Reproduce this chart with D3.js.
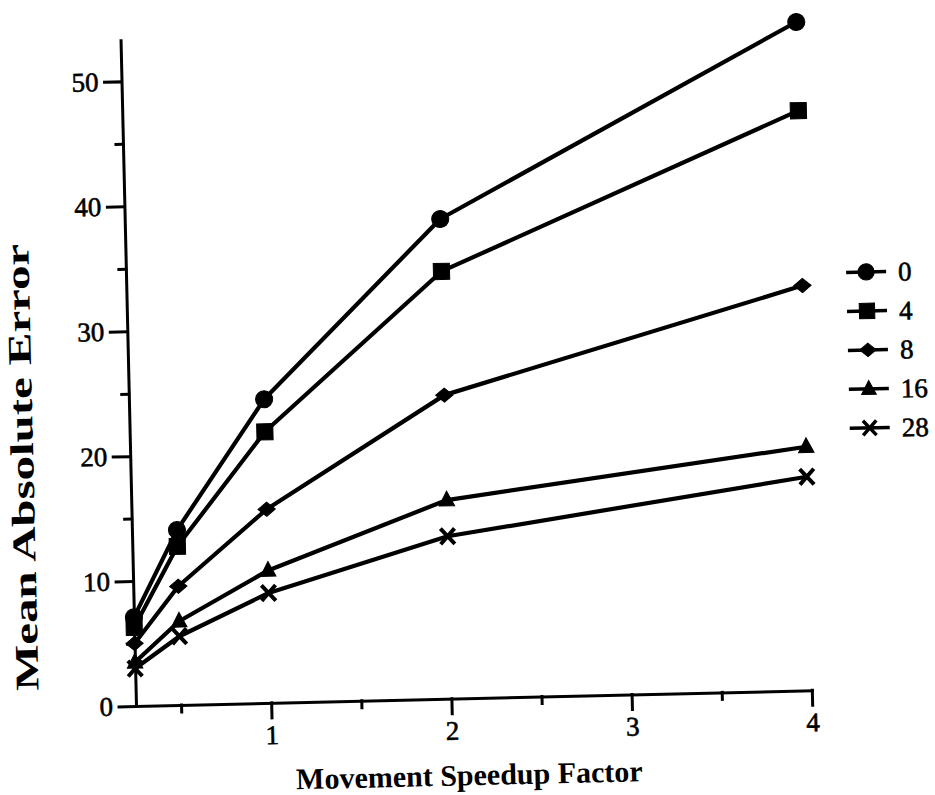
<!DOCTYPE html>
<html>
<head>
<meta charset="utf-8">
<script src="https://cdn.jsdelivr.net/npm/d3@7"></script>
<style>
  html, body { margin: 0; padding: 0; background: #fff; }
  svg { display: block; }
</style>
</head>
<body>
<svg id="chart" width="935" height="795"></svg>
<script>
// Movement speedup factor (x) and mean absolute error per delay condition
const speedup = [0.25, 0.5, 1, 2, 4];
const delayLabels = ["0", "4", "8", "16", "28"];
const errDelay0  = [7.1, 14.0, 24.3, 38.4, 53.5];
const errDelay4  = [6.3, 12.7, 21.7, 34.2, 46.4];
const errDelay8  = [5.0, 9.5, 15.5, 24.3, 32.4];
const errDelay16 = [3.5, 6.7, 10.6, 15.9, 19.5];
const errDelay28 = [3.0, 5.5, 8.8, 13.0, 17.1];

const yTickValues  = [0, 10, 20, 30, 40, 50];
const yMinorValues = [5, 15, 25, 35, 45];
const xTickValues  = [1, 2, 3, 4];
const xMinorValues = [0.5, 1.5, 2.5, 3.5];

const xTitle = "Movement Speedup Factor";
const yTitle = "Mean Absolute Error";

// Marker shapes, one per series
const symCircle = { draw(ctx, size) { const r = Math.sqrt(size / Math.PI); ctx.moveTo(r, 0); ctx.arc(0, 0, r, 0, 2 * Math.PI); } };
const symSquare = { draw(ctx, size) { const h = Math.sqrt(size) / 2; ctx.rect(-h, -h, 2 * h, 2 * h); } };
const symDiamond = { draw(ctx, size) { const w = Math.sqrt(size) / 2; const h = w * 0.82;
  ctx.moveTo(0, -h); ctx.lineTo(w, 0); ctx.lineTo(0, h); ctx.lineTo(-w, 0); ctx.closePath(); } };
const symTriangle = { draw(ctx, size) { const w = Math.sqrt(size) / 2;
  ctx.moveTo(0, -w * 1.15); ctx.lineTo(w, w * 0.75); ctx.lineTo(-w, w * 0.75); ctx.closePath(); } };
const symCross = { draw(ctx, size) { const w = Math.sqrt(size) / 2; const h = w * 1.1;
  ctx.moveTo(-w, -h); ctx.lineTo(w, h); ctx.moveTo(-w, h); ctx.lineTo(w, -h); } };

const series = [
  { label: delayLabels[0], values: errDelay0,  shape: symCircle,   size: 230, stroke: false },
  { label: delayLabels[1], values: errDelay4,  shape: symSquare,   size: 260, stroke: false },
  { label: delayLabels[2], values: errDelay8,  shape: symDiamond,  size: 300, stroke: false },
  { label: delayLabels[3], values: errDelay16, shape: symTriangle, size: 240, stroke: false },
  { label: delayLabels[4], values: errDelay28, shape: symCross,    size: 200, stroke: true }
];

const plotW = 676, plotH = 666;
const ink = "#000";
const serif = "'Liberation Serif', 'Times New Roman', serif";

const svg = d3.select("#chart");
// The whole figure sits slightly tilted on the page
const g = svg.append("g").attr("transform", "translate(136,706) rotate(-1.33)");

const x = d3.scaleLinear().domain([0.25, 4]).range([0, plotW]);
const y = d3.scaleLinear().domain([0, 53.3]).range([0, -plotH]);

// Axes
g.append("g")
  .call(d3.axisLeft(y).tickValues(yTickValues).tickSize(17).tickSizeOuter(0).tickPadding(6));
const yMinor = g.append("g")
  .call(d3.axisLeft(y).tickValues(yMinorValues).tickSize(7).tickFormat(""));
yMinor.select(".domain").remove();

g.append("g")
  .call(d3.axisBottom(x).tickValues(xTickValues).tickSize(15).tickSizeOuter(0).tickPadding(7).tickFormat(d3.format("d")));
const xMinor = g.append("g")
  .call(d3.axisBottom(x).tickValues(xMinorValues).tickSize(7).tickFormat(""));
xMinor.select(".domain").remove();

g.selectAll(".domain, .tick line").attr("stroke", ink).attr("stroke-width", 3).attr("stroke-linecap", "square");
g.selectAll(".tick text")
  .attr("fill", ink).attr("stroke", ink).attr("stroke-width", 0.6)
  .style("font-family", serif).style("font-size", "27px");

// Series lines and markers
const line = d3.line().x((d, i) => x(speedup[i])).y(d => y(d));

series.forEach(s => {
  g.append("path")
    .attr("d", line(s.values))
    .attr("fill", "none")
    .attr("stroke", ink)
    .attr("stroke-width", 4.2)
    .attr("stroke-linejoin", "round");
  g.selectAll(null)
    .data(s.values)
    .join("path")
    .attr("transform", (d, i) => `translate(${x(speedup[i])},${y(d)})`)
    .attr("d", d3.symbol().type(s.shape).size(s.size))
    .attr("fill", s.stroke ? "none" : ink)
    .attr("stroke", ink)
    .attr("stroke-width", s.stroke ? 4 : 1);
});

// Legend
const legend = g.append("g").attr("transform", "translate(720,-417)");
series.forEach((s, i) => {
  const row = legend.append("g").attr("transform", `translate(0,${i * 39})`);
  row.append("line").attr("x1", 0).attr("x2", 40).attr("y1", 0).attr("y2", 0)
    .attr("stroke", ink).attr("stroke-width", 3.5);
  row.append("path")
    .attr("transform", "translate(20,0)")
    .attr("d", d3.symbol().type(s.shape).size(s.size * 0.9))
    .attr("fill", s.stroke ? "none" : ink)
    .attr("stroke", ink)
    .attr("stroke-width", s.stroke ? 3.5 : 1);
  row.append("text")
    .attr("x", 52).attr("y", 0).attr("dy", "0.35em")
    .attr("fill", ink).attr("stroke", ink).attr("stroke-width", 0.6)
    .style("font-family", serif).style("font-size", "27px")
    .text(s.label);
});

// Axis titles
g.append("text")
  .attr("x", x(2.09)).attr("y", 87)
  .attr("text-anchor", "middle")
  .attr("fill", ink)
  .style("font-family", serif).style("font-size", "30px").style("font-weight", "bold")
  .text(xTitle);

g.append("text")
  .attr("transform", `translate(-97,${y(19.3)}) rotate(-90)`)
  .attr("text-anchor", "middle")
  .attr("fill", ink)
  .attr("textLength", 447).attr("lengthAdjust", "spacingAndGlyphs")
  .style("font-family", serif).style("font-size", "33px").style("font-weight", "bold")
  .text(yTitle);
</script>
</body>
</html>
